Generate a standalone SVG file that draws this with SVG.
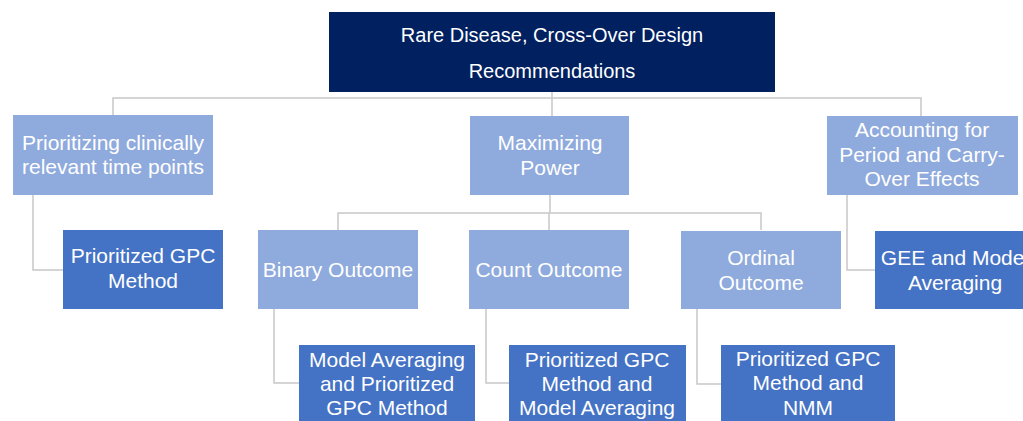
<svg xmlns="http://www.w3.org/2000/svg" width="1023" height="421" viewBox="0 0 1023 421">
<style>
.top{fill:#002060}
.l1{fill:#8faadc}
.l2{fill:#4472c4}
text{font-family:"Liberation Sans",Arial,sans-serif;font-size:21px;fill:#ffffff;text-anchor:middle}
.tt{font-size:20px}
.c{fill:none;stroke:#c8c8c8;stroke-width:1.5}
</style>
<rect width="1023" height="421" fill="#ffffff"/>
<g id="connectors">
<path class="c" d="M552,92 V116 M113,115 V98 H921 V116"/>
<path class="c" d="M33,195 V270 H63"/>
<path class="c" d="M847,195 V270 H875"/>
<path class="c" d="M550,195 V213 M338,230 V213 H761 V230 M549,213 V230"/>
<path class="c" d="M274,309 V383 H299"/>
<path class="c" d="M486,309 V383 H509"/>
<path class="c" d="M697,309 V384 H721"/>
</g>
<g id="root">
<rect class="top" x="329" y="12" width="446" height="80"/>
<text class="tt" x="552" y="42">Rare Disease, Cross-Over Design</text>
<text class="tt" x="552" y="78">Recommendations</text>
</g>
<g id="prioritizing">
<rect class="l1" x="13" y="115" width="200" height="80"/>
<text x="113" y="150">Prioritizing clinically</text>
<text x="113" y="174">relevant time points</text>
</g>
<g id="prioritized-gpc">
<rect class="l2" x="63" y="230" width="160" height="79"/>
<text x="143" y="263">Prioritized GPC</text>
<text x="143" y="288">Method</text>
</g>
<g id="maximizing">
<rect class="l1" x="470" y="116" width="159" height="79"/>
<text x="550" y="150">Maximizing</text>
<text x="550" y="175">Power</text>
</g>
<g id="accounting">
<rect class="l1" x="827" y="116" width="191" height="79"/>
<text x="922" y="137">Accounting for</text>
<text x="922" y="162">Period and Carry-</text>
<text x="922" y="186">Over Effects</text>
</g>
<g id="gee">
<rect class="l2" x="875" y="231" width="160" height="78"/>
<text x="955" y="265">GEE and Model</text>
<text x="955" y="290">Averaging</text>
</g>
<g id="binary">
<rect class="l1" x="258" y="230" width="160" height="79"/>
<text x="338" y="277">Binary Outcome</text>
</g>
<g id="count">
<rect class="l1" x="469" y="230" width="160" height="79"/>
<text x="549" y="277">Count Outcome</text>
</g>
<g id="ordinal">
<rect class="l1" x="681" y="231" width="160" height="78"/>
<text x="761" y="265">Ordinal</text>
<text x="761" y="290">Outcome</text>
</g>
<g id="binary-result">
<rect class="l2" x="299" y="345" width="176" height="80"/>
<text x="387" y="367">Model Averaging</text>
<text x="387" y="391">and Prioritized</text>
<text x="387" y="415">GPC Method</text>
</g>
<g id="count-result">
<rect class="l2" x="509" y="345" width="177" height="80"/>
<text x="597" y="367">Prioritized GPC</text>
<text x="597" y="391">Method and</text>
<text x="597" y="415">Model Averaging</text>
</g>
<g id="ordinal-result">
<rect class="l2" x="721" y="345" width="174" height="80"/>
<text x="808" y="366">Prioritized GPC</text>
<text x="808" y="390">Method and</text>
<text x="808" y="415">NMM</text>
</g>
</svg>
